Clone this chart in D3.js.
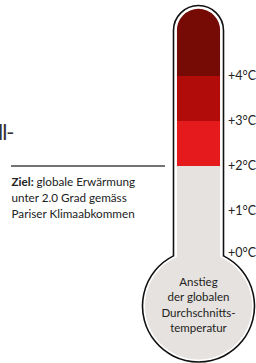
<!DOCTYPE html>
<html>
<head>
<meta charset="utf-8">
<script src="https://cdn.jsdelivr.net/npm/d3@7"></script>
<style>
  body { margin: 0; background: #fff; }
  svg { display: block; font-family: Lato, "Open Sans", sans-serif; }
</style>
</head>
<body>
<div id="chart"></div>
<script>
// warming bands (degrees above pre-industrial) and their colours
const bandFrom = [2, 3, 4];
const bandTo = [3, 4, 5.6];
const bandColors = ["#e51a1d", "#b10c09", "#760b05"];
const tickValues = [0, 1, 2, 3, 4];
const tickLabels = ["+0°C", "+1°C", "+2°C", "+3°C", "+4°C"];
const bulbLines = ["Anstieg", "der globalen", "Durchschnitts-", "temperatur"];
const goalValue = 2;
const goalLines = ["globale Erwärmung", "unter 2.0 Grad gemäss", "Pariser Klimaabkommen"];

const width = 256, height = 363;

const svg = d3.select("#chart")
  .append("svg")
    .attr("width", width)
    .attr("height", height);

// temperature scale
const y = d3.scaleLinear()
  .domain([0, 4])
  .range([256, 76]);

// thermometer geometry
const cx = 198.5;
const outerR = 25, innerR = 21.7;
const tubeTop = 30.5;
const bulbY = 306, bulbR = 56, bulbInnerR = 53.5;

// outline: tube + bulb
const joinDy = Math.sqrt(bulbR * bulbR - outerR * outerR);
const outline = d3.path();
outline.moveTo(cx - outerR, bulbY - joinDy);
outline.lineTo(cx - outerR, tubeTop);
outline.arc(cx, tubeTop, outerR, Math.PI, 0);
outline.lineTo(cx + outerR, bulbY - joinDy);
outline.arc(cx, bulbY, bulbR, -Math.asin(joinDy / bulbR), Math.PI + Math.asin(joinDy / bulbR));
outline.closePath();

// inner tube clip
const inner = d3.path();
inner.moveTo(cx - innerR, bulbY);
inner.lineTo(cx - innerR, tubeTop);
inner.arc(cx, tubeTop, innerR, Math.PI, 0);
inner.lineTo(cx + innerR, bulbY);
inner.closePath();

svg.append("clipPath")
    .attr("id", "tube")
  .append("path")
    .attr("d", inner.toString());

svg.append("path")
  .attr("d", outline.toString())
  .attr("fill", "#fff")
  .attr("stroke", "#111")
  .attr("stroke-width", 1.6);

// grey base of tube and bulb
svg.append("rect")
  .attr("clip-path", "url(#tube)")
  .attr("x", cx - innerR)
  .attr("width", innerR * 2)
  .attr("y", y(goalValue))
  .attr("height", bulbY - y(goalValue))
  .attr("fill", "#e6e2df");

svg.append("circle")
  .attr("cx", cx)
  .attr("cy", bulbY)
  .attr("r", bulbInnerR)
  .attr("fill", "#e6e2df");

// coloured bands
svg.append("g")
    .attr("clip-path", "url(#tube)")
  .selectAll("rect")
  .data(bandFrom)
  .join("rect")
    .attr("x", cx - innerR)
    .attr("width", innerR * 2)
    .attr("y", (d, i) => y(bandTo[i]))
    .attr("height", (d, i) => y(d) - y(bandTo[i]))
    .attr("fill", (d, i) => bandColors[i]);

// tick labels
svg.append("g")
  .selectAll("text")
  .data(tickValues)
  .join("text")
    .attr("x", 228)
    .attr("y", d => y(d) - (d === 0 ? 3 : 0))
    .attr("dy", "0.35em")
    .style("font-size", "12.5px")
    .style("fill", "#222")
    .text((d, i) => tickLabels[i]);

// bulb text
svg.append("g")
  .selectAll("text")
  .data(bulbLines)
  .join("text")
    .attr("x", cx)
    .attr("y", (d, i) => 282 + i * 15.3)
    .attr("dy", "0.35em")
    .style("text-anchor", "middle")
    .style("font-size", "11.5px")
    .style("fill", "#222")
    .text(d => d);

// goal annotation
svg.append("line")
  .attr("x1", 11)
  .attr("x2", 165)
  .attr("y1", y(goalValue))
  .attr("y2", y(goalValue))
  .attr("stroke", "#444")
  .attr("stroke-width", 1.4);

const goal = svg.append("text")
  .style("font-size", "11.7px")
  .style("fill", "#222");

goalLines.forEach((line, i) => {
  const t = goal.append("tspan")
    .attr("x", 11.5)
    .attr("y", 185.5 + i * 16);
  if (i === 0) {
    t.append("tspan").style("font-weight", "bold").text("Ziel: ");
    t.append("tspan").text(line);
  } else {
    t.text(line);
  }
});

// cut-off heading fragment at left
svg.append("text")
  .attr("x", 13.5)
  .attr("y", 140)
  .style("text-anchor", "end")
  .style("font-size", "22px")
  .style("letter-spacing", "-1px")
  .style("fill", "#333")
  .text("ll-");
</script>
</body>
</html>
